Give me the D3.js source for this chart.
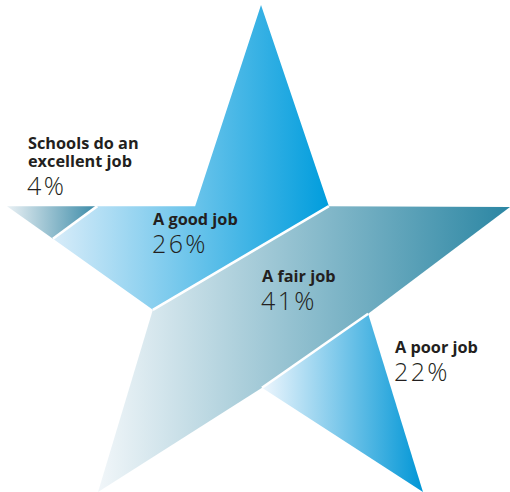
<!DOCTYPE html>
<html>
<head>
<meta charset="utf-8">
<script src="https://cdn.jsdelivr.net/npm/d3@7"></script>
<style>
  html, body { margin: 0; padding: 0; background: #fff; }
  svg { display: block; }
  .lab { font-family: "Open Sans", "Noto Sans", sans-serif; font-weight: 700; font-size: 16.3px; fill: #231f20; }
  .pct { font-family: "Open Sans", "Noto Sans", sans-serif; font-weight: 300; font-size: 25px; letter-spacing: 2.4px; fill: #231f20; }
</style>
</head>
<body>
<svg id="chart" width="510" height="492"></svg>
<script>
// Survey answers shown as bands of a star
const categories = ["Schools do an excellent job", "A good job", "A fair job", "A poor job"];
const labelLines = [["Schools do an", "excellent job"], ["A good job"], ["A fair job"], ["A poor job"]];
const values = [4, 26, 41, 22];

// Star outline in unit coordinates (outer tips and inner corners, clockwise from top)
const starPts = [
  [0.505, 0.000], [0.640, 0.413], [1.000, 0.415], [0.718, 0.634], [0.827, 1.000],
  [0.507, 0.786], [0.181, 1.000], [0.290, 0.626], [0.000, 0.413], [0.374, 0.413]
];

const W = 510, H = 492;
const x = d3.scaleLinear().domain([0, 1]).range([7, 510]);
const y = d3.scaleLinear().domain([0, 1]).range([5, 492]);
const P = starPts.map(([u, v]) => [x(u), y(v)]);
const lerp = (a, b, t) => [a[0] + (b[0] - a[0]) * t, a[1] + (b[1] - a[1]) * t];

// cut across the left tip
const A = lerp(P[8], P[9], 0.48);
const B = lerp(P[8], P[7], 0.315);

// each band as a polygon built from star corners and cut points
const bandShapes = [
  [P[8], A, B],
  [A, P[9], P[0], P[1], P[7], B],
  [P[1], P[2], P[3], P[5], P[6], P[7]],
  [P[3], P[4], P[5]]
];
const cuts = [[B, A], [P[7], P[1]], [P[5], P[3]]];

const gradStops = [
  ["#e9f0f4", "#3a8aa7"],
  ["#d8ecf9", "#009ddd"],
  ["#f1f6f9", "#2b86a3"],
  ["#eef6fd", "#0096d6"]
];

const labelAnchor = [[28, 149], [153, 225], [262, 282], [395, 353]];

const svg = d3.select("#chart");
const defs = svg.append("defs");

const bands = categories.map((c, i) => ({
  name: c, value: values[i], lines: labelLines[i], pts: bandShapes[i]
}));

bands.forEach((b, i) => {
  const xs = b.pts.map(p => p[0]);
  const g = defs.append("linearGradient")
    .attr("id", "g" + i)
    .attr("gradientUnits", "userSpaceOnUse")
    .attr("x1", d3.min(xs)).attr("x2", d3.max(xs))
    .attr("y1", 0).attr("y2", 0);
  g.append("stop").attr("offset", 0).attr("stop-color", gradStops[i][0]);
  g.append("stop").attr("offset", 1).attr("stop-color", gradStops[i][1]);
});

const line = d3.line();

svg.append("g").selectAll("path")
  .data(bands)
  .join("path")
  .attr("d", d => line(d.pts) + "Z")
  .attr("fill", (d, i) => `url(#g${i})`);

// white gaps between bands
svg.append("g").selectAll("path")
  .data(cuts)
  .join("path")
  .attr("d", d => line(d))
  .attr("stroke", "#fff")
  .attr("stroke-width", 2.6)
  .attr("fill", "none");

// labels
const lg = svg.append("g");
bands.forEach((b, i) => {
  const [lx, ly] = labelAnchor[i];
  b.lines.forEach((t, k) => {
    lg.append("text").attr("class", "lab")
      .attr("x", lx).attr("y", ly + k * 18).text(t);
  });
  lg.append("text").attr("class", "pct")
    .attr("x", lx - 1).attr("y", ly + (b.lines.length - 1) * 18 + 28)
    .text(b.value + "%");
});
</script>
</body>
</html>
